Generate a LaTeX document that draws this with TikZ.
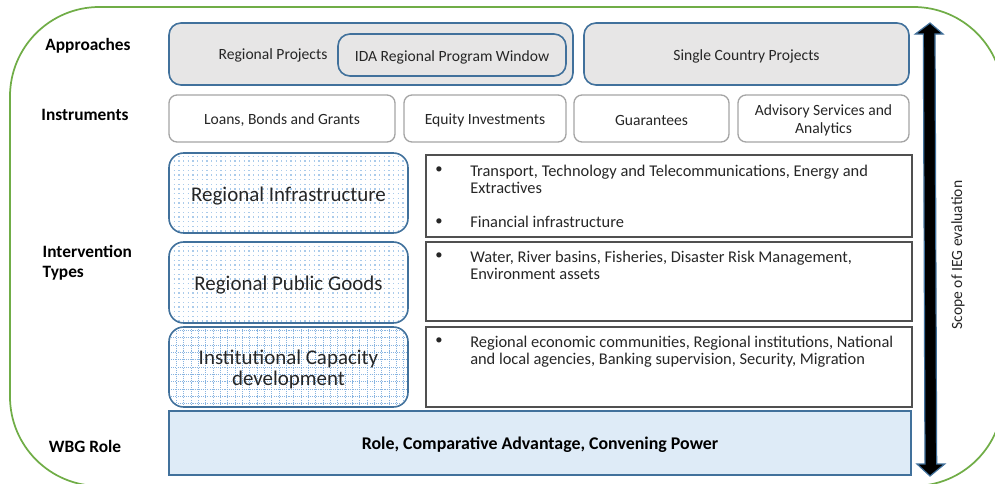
\documentclass[tikz,border=0pt]{standalone}
\usepackage{fontspec}
\setmainfont{Carlito}
\usetikzlibrary{fit}
\definecolor{bordblue}{RGB}{65,113,156}
\definecolor{boxgray}{RGB}{231,230,230}
\definecolor{instgray}{RGB}{165,165,165}
\definecolor{wbgfill}{RGB}{222,235,247}
\definecolor{grn}{RGB}{112,173,71}
\definecolor{descgray}{RGB}{80,80,80}
\definecolor{dotblue}{RGB}{170,203,235}
\definecolor{gridblue}{RGB}{135,180,225}
\begin{document}
\begin{tikzpicture}[x=0.75pt,y=-0.75pt,
  every node/.style={font=\fontsize{11.7}{13}\selectfont, text=black!85},
  lbl/.style={font=\fontsize{13}{15}\selectfont\bfseries, text=black},
  ctext/.style={yshift=-1.5pt},
  apbox/.style={draw=bordblue, line width=1.2pt, fill=boxgray, rounded corners=9pt, inner sep=0pt},
  instbox/.style={draw=instgray, line width=1pt, fill=white, rounded corners=6pt, inner sep=0pt},
  ivbox/.style={draw=bordblue, line width=1.2pt, rounded corners=11pt, inner sep=0pt, fill=white,
     path picture={\foreach \k in {0,...,22}{\draw[dotblue, line width=0.9pt, dash pattern=on 0.9pt off 2.6pt]
        ([yshift=\k*3.5pt+1.5pt]path picture bounding box.south west) -- ++(200pt,0);}}},
  ivgrid/.style={draw=bordblue, line width=1.2pt, rounded corners=11pt, inner sep=0pt, fill=white,
     path picture={\draw[gridblue, line width=0.5pt, dash pattern=on 0.8pt off 0.8pt] (path picture bounding box.south west) grid[step=5.5pt] (path picture bounding box.north east);}},
  ivtext/.style={align=center, font=\fontsize{15.7}{16}\selectfont, yshift=-2pt},
  descbox/.style={draw=descgray, line width=0.8pt, inner sep=0pt},
  desctext/.style={anchor=north west, align=left, inner sep=0pt, font=\fontsize{12.3}{12.75}\selectfont},
  bul/.style={inner sep=0pt, anchor=north, font=\fontsize{11}{12.75}\selectfont},
]
\useasboundingbox (0,0) rectangle (995,483);
\begin{scope}
  \clip (0,0) rectangle (995,483);
  \draw[grn, line width=1.3pt, rounded corners=67pt] (10,7) rectangle (1003,486);
\end{scope}

% row labels
\node[lbl] (apl) at (88,46) {Approaches};
\node[lbl] (inl) at (85,115) {Instruments};
\node[lbl, align=left, anchor=west] (itl) at (38,263) {Intervention\\Types};
\node[lbl] (wbgl) at (85,446) {WBG Role};

% approaches
\node[apbox, fit={(169,23) (573,85)}] (regproj) {};
\node (rptext) at (273,55) {Regional Projects};
\node[apbox, fit={(338,34) (566,76)}] (ida) {};
\node[ctext] (idatext) at (ida.center) {IDA Regional Program Window};
\node[apbox, fit={(584,23) (909,85)}] (single) {};
\node[ctext] (singletext) at (single.center) {Single Country Projects};

% instruments
\node[instbox, fit={(169,95) (395,142)}] (loans) {};
\node[ctext] (loanstext) at (loans.center) {Loans, Bonds and Grants};
\node[instbox, fit={(404,95) (566,142)}] (equity) {};
\node[ctext] (equitytext) at (equity.center) {Equity Investments};
\node[instbox, fit={(574,95) (729,142)}] (guar) {};
\node[ctext] (guartext) at (guar.center) {Guarantees};
\node[instbox, fit={(738,95) (909,142)}] (adv) {};
\node[align=center, ctext] (advtext) at (adv.center) {Advisory Services and\\Analytics};

% intervention types
\node[ivbox, fit={(169,153) (408,233)}] (rinf) {};
\node[ivtext] (rinftext) at (rinf.center) {Regional Infrastructure};
\node[ivbox, fit={(169,242) (408,323)}] (rpg) {};
\node[ivtext] (rpgtext) at (rpg.center) {Regional Public Goods};
\node[ivgrid, fit={(169,327) (408,407)}] (icd) {};
\node[ivtext] (icdtext) at (icd.center) {Institutional Capacity\\development};

% descriptions
\node[descbox, fit={(426,155) (912,237)}] (d1) {};
\node[descbox, fit={(426,242) (912,321)}] (d2) {};
\node[descbox, fit={(426,327) (912,407)}] (d3) {};

\node[bul] (b1) at (439,167) {\textbullet};
\node[bul] (b2) at (439,219) {\textbullet};
\node[desctext] (t1) at (470,164.5) {Transport, Technology and Telecommunications, Energy and\\Extractives\\[12.75pt]Financial infrastructure};
\node[bul] (b3) at (439,253) {\textbullet};
\node[desctext] (t2) at (470,250.5) {Water, River basins, Fisheries, Disaster Risk Management,\\Environment assets};
\node[bul] (b4) at (439,338) {\textbullet};
\node[desctext] (t3) at (470,335.5) {Regional economic communities, Regional institutions, National\\and local agencies, Banking supervision, Security, Migration};

% WBG role
\node[draw=bordblue, line width=1.5pt, fill=wbgfill, inner sep=0pt, fit={(169,411) (911,475)}] (wbg) {};
\node[font=\fontsize{13.4}{15}\selectfont\bfseries, text=black, yshift=-1pt] (wbgtext) at (wbg.center) {Role, Comparative Advantage, Convening Power};

% scope arrow
\coordinate (atop) at (930,23);
\coordinate (abot) at (930,476);
\fill[black, draw=bordblue, line width=0.9pt]
  (atop) -- ++(13,11) -- ++(-8,0) -- ([xshift=5]abot |- 0,464) -- ++(8,0) -- (abot)
  -- ++(-13,-12) -- ++(8,0) -- ([xshift=-5]atop |- 0,34) -- ++(-8,0) -- cycle;
\node[rotate=90] (scope) at (958,255) {Scope of IEG evaluation};
\end{tikzpicture}
\end{document}
